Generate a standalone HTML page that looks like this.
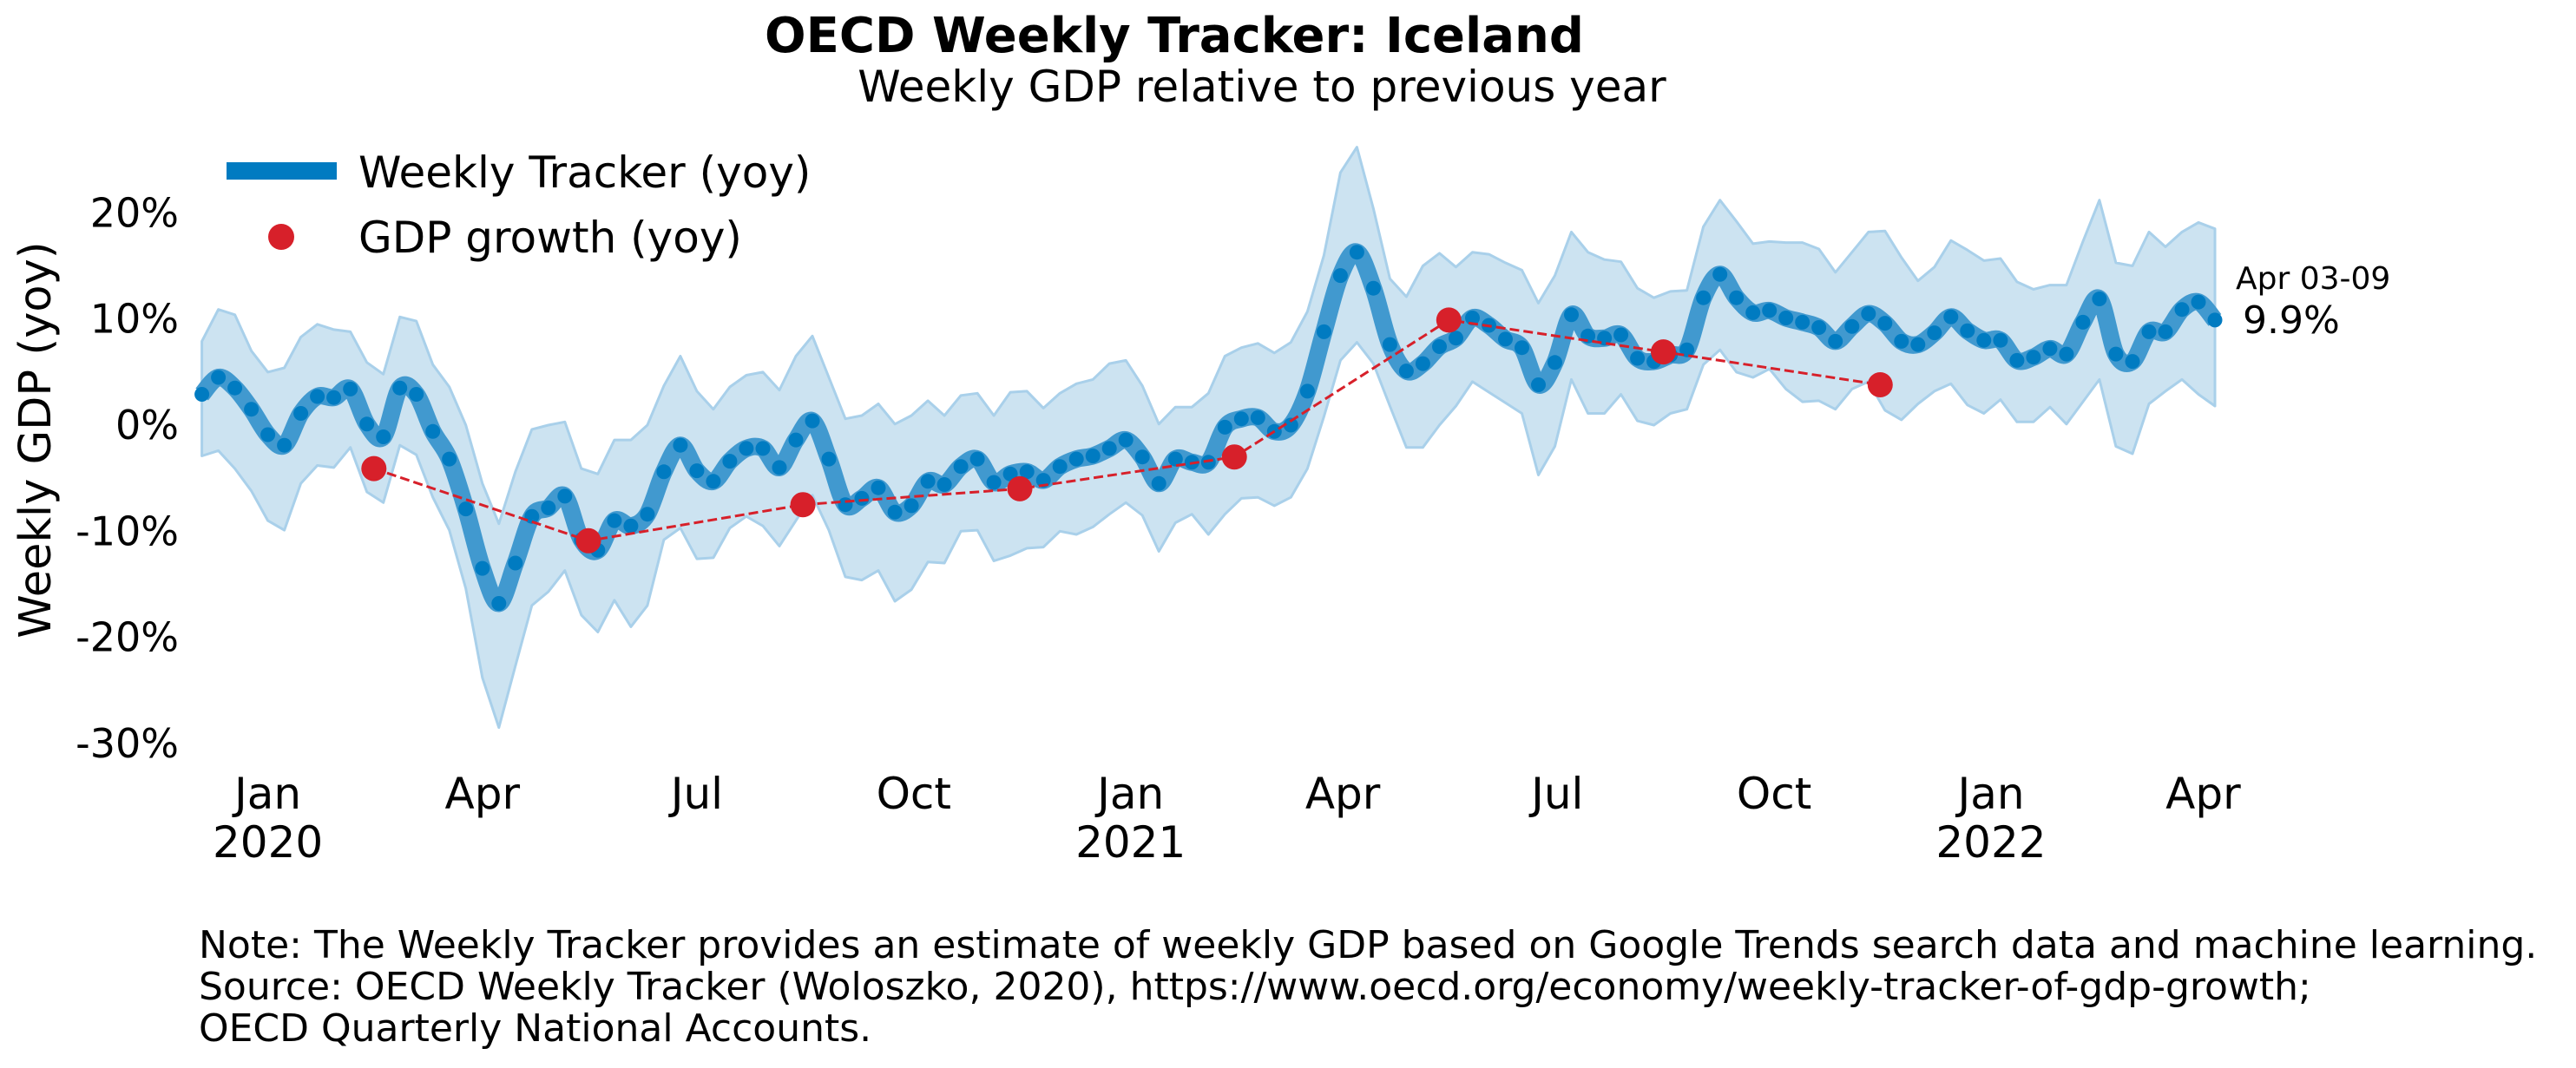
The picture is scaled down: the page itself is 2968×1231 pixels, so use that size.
<!DOCTYPE html>
<html><head><meta charset="utf-8">
<style>
html,body{margin:0;padding:0;background:#fff;}
svg{display:block;font-family:"DejaVu Sans","Liberation Sans",sans-serif;}
</style></head>
<body>
<svg id="chart" width="2968" height="1231" viewBox="0 0 2968 1231" xmlns="http://www.w3.org/2000/svg">
<text x="1353" y="60" font-size="56" font-weight="bold" text-anchor="middle">OECD Weekly Tracker: Iceland</text>
<text x="1454" y="117" font-size="50" text-anchor="middle">Weekly GDP relative to previous year</text>
<text transform="translate(58,507) rotate(-90)" font-size="51" text-anchor="middle">Weekly GDP (yoy)</text>
<g id="plot"></g>
<g>
<line x1="261" y1="197" x2="388" y2="197" stroke="#007bc1" stroke-width="20"/>
<text x="413" y="216" font-size="50">Weekly Tracker (yoy)</text>
<circle cx="324" cy="273" r="15" fill="#d7202a"/>
<text x="413" y="291" font-size="50">GDP growth (yoy)</text>
</g>
<text x="2576" y="333" font-size="36">Apr 03-09</text>
<text x="2584" y="384" font-size="44">9.9%</text>
<g font-size="44">
<text x="229" y="1104">Note: The Weekly Tracker provides an estimate of weekly GDP based on Google Trends search data and machine learning.</text>
<text x="229" y="1152">Source: OECD Weekly Tracker (Woloszko, 2020), https://www.oecd.org/economy/weekly-tracker-of-gdp-growth;</text>
<text x="229" y="1200">OECD Quarterly National Accounts.</text>
</g>
</svg>
<script>
const weekStartDay = -28; // days since 2020-01-01 of first weekly point
const trackerMean = [2.9,4.5,3.5,1.5,-0.9,-1.9,1.1,2.7,2.6,3.4,0.1,-1.1,3.5,2.9,-0.6,-3.2,-7.9,-13.5,-16.8,-13.0,-8.6,-7.8,-6.7,-10.8,-11.8,-9.0,-9.5,-8.4,-4.4,-1.9,-4.3,-5.3,-3.4,-2.2,-2.2,-4.0,-1.4,0.4,-3.2,-7.5,-6.9,-5.9,-8.2,-7.6,-5.3,-5.6,-3.9,-3.2,-5.4,-4.6,-4.4,-5.2,-3.9,-3.2,-2.9,-2.2,-1.4,-3.0,-5.5,-3.2,-3.5,-3.5,-0.2,0.6,0.7,-0.6,0,3.2,8.8,14.1,16.3,12.9,7.6,5.1,5.8,7.4,8.2,10.1,9.4,8.1,7.3,3.8,5.9,10.4,8.4,8.2,8.5,6.3,6.0,6.6,7.1,12.0,14.2,12.0,10.6,10.8,10.1,9.7,9.2,7.9,9.3,10.5,9.6,7.9,7.6,8.7,10.2,8.9,8.0,8.0,6.1,6.4,7.2,6.7,9.7,11.9,6.7,6.0,8.8,8.8,10.9,11.6,9.9];
const trackerUpper = [7.9,10.9,10.4,7.0,5.0,5.4,8.3,9.5,9.0,8.8,5.9,4.8,10.2,9.8,5.7,3.6,0,-5.5,-9.3,-4.4,-0.4,0,0.3,-4.1,-4.6,-1.4,-1.4,0,3.7,6.5,3.2,1.5,3.6,4.7,5.0,3.3,6.5,8.4,4.5,0.6,0.9,2.0,0.1,0.9,2.3,0.9,2.8,3.0,0.9,3.1,3.2,1.6,3.0,3.9,4.3,5.8,6.1,3.7,0.1,1.7,1.7,3.0,6.5,7.3,7.7,6.8,7.8,10.7,16.0,23.8,26.2,20.4,13.8,12.1,15.0,16.2,14.9,16.3,16.1,15.3,14.6,11.5,14.1,18.2,16.3,15.6,15.4,12.9,12.0,12.6,12.7,18.7,21.2,19.2,17.1,17.3,17.2,17.2,16.6,14.4,16.3,18.2,18.3,15.8,13.6,14.9,17.4,16.5,15.5,15.7,13.5,12.8,13.2,13.2,17.3,21.2,15.3,15.0,18.2,16.8,18.2,19.1,18.5];
const trackerLower = [-2.9,-2.4,-4.1,-6.2,-9.0,-9.9,-5.5,-3.8,-4.0,-2.1,-6.3,-7.3,-1.9,-2.8,-6.8,-9.9,-15.4,-23.8,-28.5,-22.7,-17.0,-15.7,-13.7,-17.9,-19.5,-16.5,-19.0,-17.0,-10.8,-9.7,-12.6,-12.5,-9.7,-8.6,-9.5,-11.4,-9.0,-6.6,-9.9,-14.3,-14.6,-13.7,-16.6,-15.5,-12.9,-13.0,-10.0,-9.9,-12.8,-12.3,-11.6,-11.5,-10.0,-10.3,-9.6,-8.4,-7.3,-8.5,-11.9,-9.2,-8.4,-10.3,-8.4,-6.9,-6.8,-7.6,-6.8,-4.1,0.8,6.1,7.8,5.8,1.8,-2.1,-2.1,0,1.8,4.1,3.1,2.1,1.1,-4.7,-2.0,4.3,1.1,1.1,2.9,0.4,0,1.1,1.5,5.7,7.1,5.0,4.5,5.3,3.4,2.2,2.3,1.5,3.4,4.1,1.4,0.5,2.0,3.2,3.9,1.9,1.1,2.4,0.3,0.3,1.7,0.1,2.2,4.3,-2.0,-2.7,2.0,3.2,4.3,2.9,1.8];
const gdpDays = [45,136,227,319,410,501,592,684];
const gdpValues = [-4.1,-10.9,-7.5,-6.0,-3.0,9.9,6.9,3.8];
const yTickValues = [20,10,0,-10,-20,-30];
const xTickDays = [0,91,182,274,366,456,547,639,731,821];
const xTickMonths = ["Jan","Apr","Jul","Oct","Jan","Apr","Jul","Oct","Jan","Apr"];
const xTickYears = ["2020","","","","2021","","","","2022",""];

const NS = "http://www.w3.org/2000/svg";
function xScale(day){ return 308.6 + day * 2.716; }
function yScale(v){ return 490 - v * 12.23; }
function mk(tag, attrs, parent){
  const e = document.createElementNS(NS, tag);
  for (const k in attrs) e.setAttribute(k, attrs[k]);
  parent.appendChild(e);
  return e;
}
const plot = document.getElementById('plot');
const svg = document.getElementById('chart');
const pts = trackerMean.map((v,i)=>[xScale(weekStartDay+7*i), yScale(v)]);

let d = "M" + trackerUpper.map((v,i)=>xScale(weekStartDay+7*i).toFixed(1)+","+yScale(v).toFixed(1)).join(" L");
for (let i=trackerLower.length-1;i>=0;i--) d += " L"+xScale(weekStartDay+7*i).toFixed(1)+","+yScale(trackerLower[i]).toFixed(1);
d += " Z";
const band = mk('path', {d:d, fill:'#cce3f1', stroke:'#a9d0ea', 'stroke-width':3, 'stroke-linejoin':'round'}, plot);



let ld = "M"+pts[0][0].toFixed(1)+","+pts[0][1].toFixed(1);
for (let i=0;i<pts.length-1;i++){
  const p0=pts[Math.max(0,i-1)], p1=pts[i], p2=pts[i+1], p3=pts[Math.min(pts.length-1,i+2)];
  const c1=[p1[0]+(p2[0]-p0[0])/6, p1[1]+(p2[1]-p0[1])/6];
  const c2=[p2[0]-(p3[0]-p1[0])/6, p2[1]-(p3[1]-p1[1])/6];
  ld += " C"+c1[0].toFixed(1)+","+c1[1].toFixed(1)+" "+c2[0].toFixed(1)+","+c2[1].toFixed(1)+" "+p2[0].toFixed(1)+","+p2[1].toFixed(1);
}
const line = mk('path', {d:ld, fill:'none', stroke:'#4199cf', 'stroke-width':20, 'stroke-linecap':'butt', 'stroke-linejoin':'round'}, plot);



pts.forEach((p,i)=>{
  const c = mk('circle', {cx:p[0].toFixed(1), cy:p[1].toFixed(1), r:8.5, fill:'#007bc1'}, plot);
  
  
});

const gl = mk('polyline', {points: gdpDays.map((dd,i)=>xScale(dd).toFixed(1)+","+yScale(gdpValues[i]).toFixed(1)).join(" "), fill:'none', stroke:'#d7202a', 'stroke-width':3, 'stroke-dasharray':'11,5'}, plot);


gdpDays.forEach((dd,i)=>{
  const c = mk('circle', {cx:xScale(dd).toFixed(1), cy:yScale(gdpValues[i]).toFixed(1), r:14.5, fill:'#d7202a'}, plot);
  
  
});

yTickValues.forEach(v=>{
  const t = mk('text', {x:206, y:(yScale(v)+16).toFixed(1), 'font-size':46, 'text-anchor':'end'}, svg);
  t.textContent = v + "%";
  
  
});
xTickDays.forEach((dd,i)=>{
  const t = mk('text', {x:xScale(dd).toFixed(1), y:932, 'font-size':50, 'text-anchor':'middle'}, svg);
  t.textContent = xTickMonths[i];
  
  
  if (xTickYears[i]){
    const y = mk('text', {x:xScale(dd).toFixed(1), y:988, 'font-size':50, 'text-anchor':'middle'}, svg);
    y.textContent = xTickYears[i];
    
    
  }
});
</script>
</body></html>
